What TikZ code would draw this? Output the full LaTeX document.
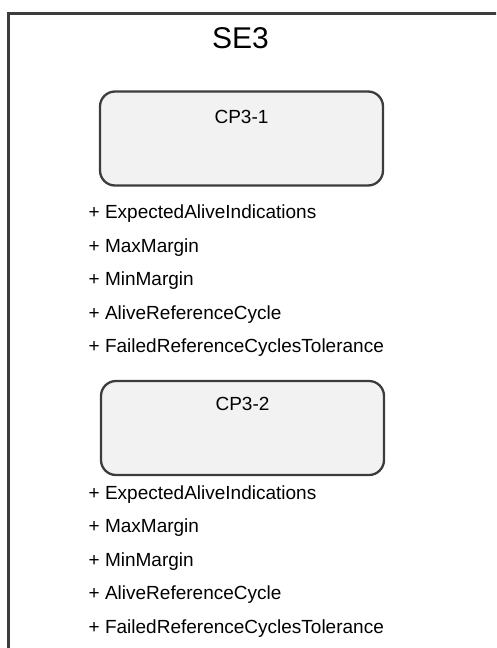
\documentclass[tikz,border=0pt]{standalone}
\usepackage{fontspec}
\setmainfont{Liberation Sans}
\usepackage{tikz}

\definecolor{framegray}{HTML}{3C3C3C}
\definecolor{boxfill}{HTML}{F2F2F2}

\begin{document}
\begin{tikzpicture}[x=1pt, y=-1pt,
    cpbox/.style={rectangle, draw=framegray, line width=2.3pt, fill=boxfill, rounded corners=15pt, minimum width=283pt, minimum height=94pt, inner sep=0pt},
    cplabel/.style={anchor=base, inner sep=0pt, font=\fontsize{19}{22}\selectfont},
    attr/.style={anchor=base west, inner sep=0pt, font=\fontsize{19}{22}\selectfont}]

    % Page size of the reference
    \useasboundingbox (0,0) rectangle (496,648);
    \clip (0,0) rectangle (496,648);

    % Outer frame (right and bottom edges run off the page)
    \draw[framegray, line width=3pt] (8.5,660) -- (8.5,13.5) -- (510,13.5);

    % Title
    \node[anchor=base, inner sep=0pt, font=\fontsize{30}{34}\selectfont] (title) at (240.5,48.3) {SE3};

    % First component
    \node[cpbox] (cp1) at (241.5,138.5) {};
    \node[cplabel] (cp1label) at (241.5,123.5) {CP3-1};
    \foreach \name [count=\i from 0] in {ExpectedAliveIndications, MaxMargin, MinMargin, AliveReferenceCycle, FailedReferenceCyclesTolerance}
        \node[attr] (cp1attr\i) at (88.5,218.5+33.6*\i) {+ \name};

    % Second component
    \node[cpbox] (cp2) at (242.5,428) {};
    \node[cplabel] (cp2label) at (242.5,410.1) {CP3-2};
    \foreach \name [count=\i from 0] in {ExpectedAliveIndications, MaxMargin, MinMargin, AliveReferenceCycle, FailedReferenceCyclesTolerance}
        \node[attr] (cp2attr\i) at (88.5,499+33.6*\i) {+ \name};
\end{tikzpicture}
\end{document}
